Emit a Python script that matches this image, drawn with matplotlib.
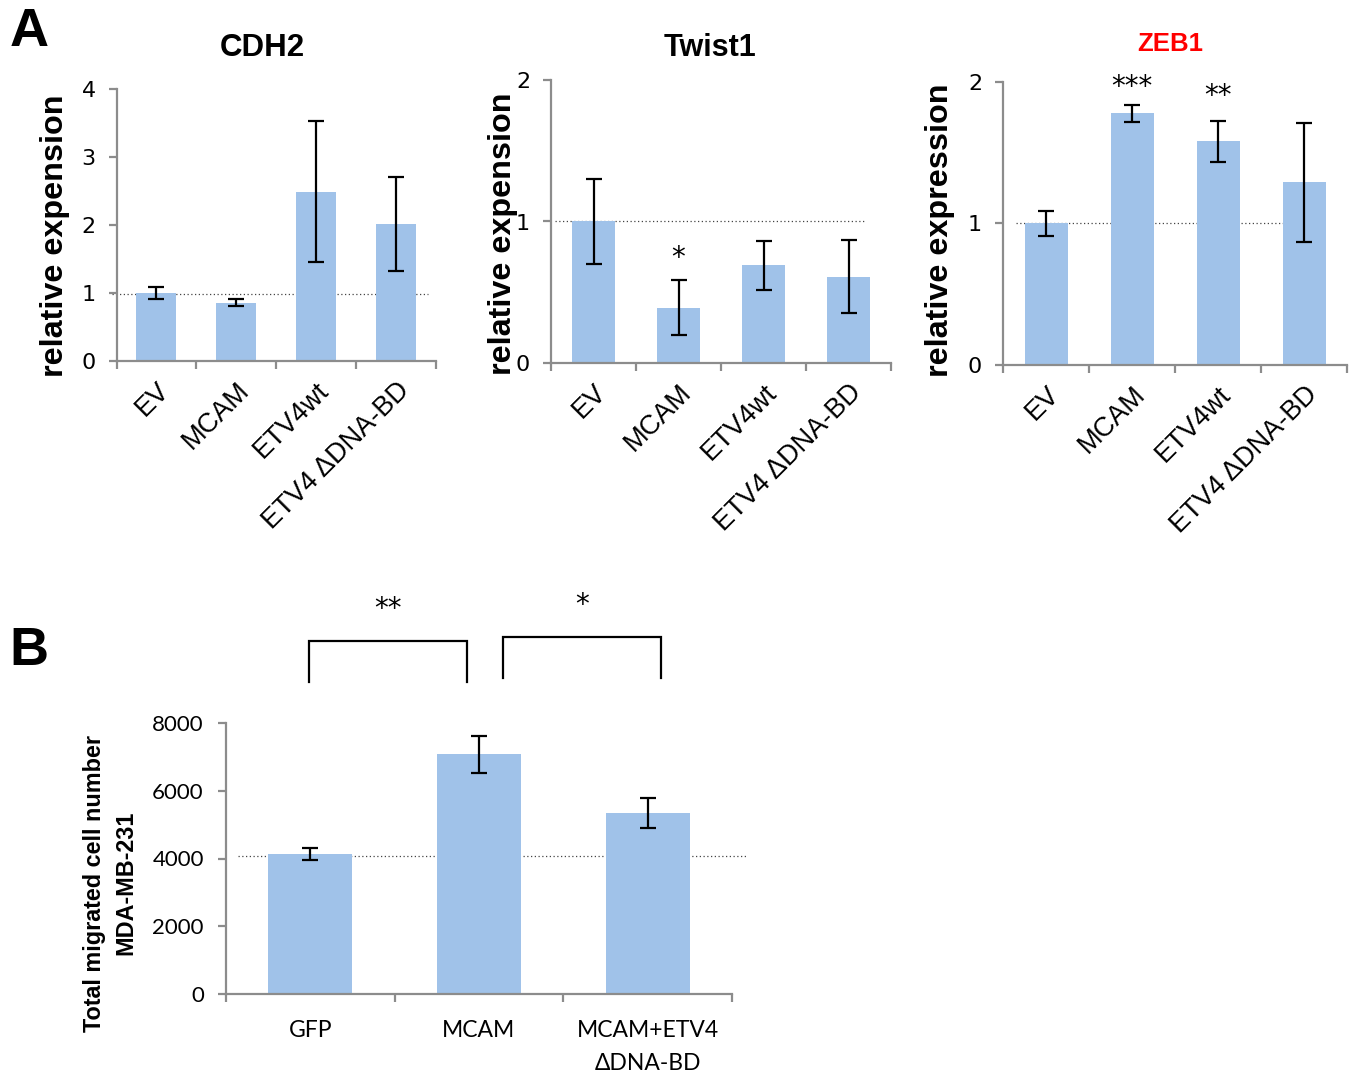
import matplotlib
matplotlib.use('Agg')
import matplotlib.pyplot as plt
import numpy as np

plt.rcParams['font.family'] = ['Liberation Sans', 'DejaVu Sans']

# ---------------- data ----------------
categories_A = ['EV', 'MCAM', 'ETV4wt', 'ETV4 ΔDNA-BD']
cdh2_values = [1.00, 0.86, 2.49, 2.02]
cdh2_errors = [0.09, 0.045, 1.04, 0.69]
twist1_values = [1.00, 0.39, 0.69, 0.61]
twist1_errors = [0.30, 0.195, 0.175, 0.26]
zeb1_values = [1.00, 1.78, 1.58, 1.29]
zeb1_errors = [0.09, 0.06, 0.145, 0.42]
cdh2_stars = ['', '', '', '']
twist1_stars = ['', '*', '', '']
zeb1_stars = ['', '***', '**', '']
cdh2_ref, twist1_ref, zeb1_ref = 0.98, 1.0, 1.0

categories_B = ['GFP', 'MCAM', 'MCAM+ETV4\nΔDNA-BD']
migration_values = [4130, 7075, 5345]
migration_errors = [180, 545, 440]
migration_ref = 4060
comparisons_B = [(0, 1, '**'), (1, 2, '*')]

BAR = '#A0C2E9'
AXC = '#8C8C8C'
W, H = 1359, 1074

fig = plt.figure(figsize=(W / 100, H / 100), dpi=100)


def rect(l, r, t, b):
    return [l / W, (H - b) / H, (r - l) / W, (b - t) / H]


def style_ax(ax, n, ymax, yticks, tickfont, tickfs, pad):
    ax.set_xlim(-0.5, n - 0.5)
    ax.set_ylim(0, ymax)
    for s in ['top', 'right']:
        ax.spines[s].set_visible(False)
    for s in ['left', 'bottom']:
        ax.spines[s].set_color(AXC)
        ax.spines[s].set_linewidth(1.6)
    ax.set_yticks(yticks)
    ax.set_yticklabels([str(t) for t in yticks], family=tickfont, fontsize=tickfs)
    ax.tick_params(axis='y', direction='out', length=6, width=1.6, color=AXC, pad=pad)
    ax.set_xticks(np.arange(n + 1) - 0.5, minor=True)
    ax.tick_params(axis='x', which='minor', direction='out', length=6, width=1.6, color=AXC)


def panel_A(box, values, errors, stars, ref, ref_span, ymax, yticks, star_off):
    ax = fig.add_axes(rect(*box))
    n = len(values)
    x = np.arange(n)
    ax.bar(x, values, width=0.5, color=BAR, zorder=2)
    ax.errorbar(x, values, yerr=errors, fmt='none', ecolor='black', elinewidth=1.6,
                capsize=5.5, capthick=1.6, zorder=3)
    ax.plot(ref_span, [ref, ref], ls=(0, (1, 2)), color='#444444', lw=0.9, zorder=1, clip_on=False)
    style_ax(ax, n, ymax, yticks, ['DejaVu Sans'], 16, 9)
    ax.set_xticks(x)
    ax.set_xticklabels(categories_A, rotation=45, ha='right', va='top',
                       rotation_mode='anchor', fontsize=19.5)
    ax.tick_params(axis='x', which='major', length=0, pad=12)
    for i, s in enumerate(stars):
        if s:
            ax.annotate(s, (i, values[i] + errors[i]), xytext=(0, star_off[i]),
                        textcoords='offset points', ha='center', va='center',
                        fontsize=20, family=['DejaVu Sans'])
    return ax


ax1 = panel_A((116.5, 436, 89, 361), cdh2_values, cdh2_errors, cdh2_stars, cdh2_ref,
              [-0.56, 3.4], 4, [0, 1, 2, 3, 4], [0, 0, 0, 0])
ax2 = panel_A((551, 891, 80, 363), twist1_values, twist1_errors, twist1_stars, twist1_ref,
              [-0.45, 3.2], 2, [0, 1, 2], [0, 16, 0, 0])
ax3 = panel_A((1003, 1347, 82, 365), zeb1_values, zeb1_errors, zeb1_stars, zeb1_ref,
              [-0.35, 3.26], 2, [0, 1, 2], [0, 13, 18, 0])

# titles and labels
fig.text(29 / W, 1 - 32 / H, 'A', fontsize=39, fontweight='bold', ha='center', va='center')
fig.text(29 / W, 1 - 651 / H, 'B', fontsize=39, fontweight='bold', ha='center', va='center')
fig.text(262 / W, 1 - 48 / H, 'CDH2', fontsize=22.5, fontweight='bold', ha='center', va='center')
fig.text(710 / W, 1 - 48 / H, 'Twist1', fontsize=22, fontweight='bold', ha='center', va='center')
fig.text(1170 / W, 1 - 44 / H, 'ZEB1', fontsize=18.5, fontweight='bold', color='#FF0000',
         ha='center', va='center')
fig.text(55 / W, 1 - 236 / H, 'relative expension', fontsize=23.3, fontweight='bold',
         rotation=90, ha='center', va='center')
fig.text(503 / W, 1 - 234 / H, 'relative expension', fontsize=23.3, fontweight='bold',
         rotation=90, ha='center', va='center')
fig.text(940 / W, 1 - 230 / H, 'relative expression', fontsize=23.3, fontweight='bold',
         rotation=90, ha='center', va='center')

# ---------------- panel B ----------------
axB = fig.add_axes(rect(226, 732, 723, 994))
xb = np.arange(len(migration_values))
axB.bar(xb, migration_values, width=0.5, color=BAR, zorder=2)
axB.errorbar(xb, migration_values, yerr=migration_errors, fmt='none', ecolor='black',
             elinewidth=1.6, capsize=5.5, capthick=1.6, zorder=3)
axB.plot([-0.43, 2.59], [migration_ref, migration_ref], ls=(0, (1, 2)), color='#444444',
         lw=0.9, zorder=1, clip_on=False)
style_ax(axB, 3, 8000, [0, 2000, 4000, 6000, 8000], ['Lato', 'DejaVu Sans'], 16, 10)
axB.set_xticks(xb)
axB.set_xticklabels(categories_B, fontsize=16.5, family=['Lato', 'DejaVu Sans'],
                    linespacing=1.7, va='top')
axB.tick_params(axis='x', which='major', length=0, pad=19)

# significance brackets
bracket_geom = {(0, 1): (-0.01, 0.93, 10421, 9210), (1, 2): (1.14, 2.08, 10539, 9328)}
for a, b, s in comparisons_B:
    x0, x1, ytop, ybot = bracket_geom[(a, b)]
    axB.plot([x0, x0, x1, x1], [ybot, ytop, ytop, ybot], color='black', lw=1.6,
             clip_on=False, solid_joinstyle='miter')
    axB.text((x0 + x1) / 2, ytop + 950, s, ha='center', va='center', fontsize=20,
             family=['DejaVu Sans'])

fig.text(95 / W, 1 - 883 / H, 'Total migrated cell number', fontsize=16.8, fontweight='bold',
         rotation=90, ha='center', va='center')
fig.text(126 / W, 1 - 883 / H, 'MDA-MB-231', fontsize=16.8, fontweight='bold',
         rotation=90, ha='center', va='center')

fig.savefig('out.png', dpi=100)
